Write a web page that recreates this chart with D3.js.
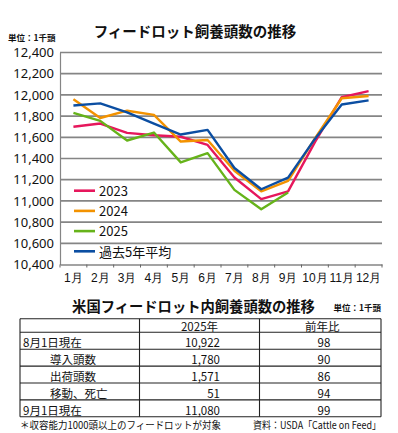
<!DOCTYPE html>
<html>
<head>
<meta charset="utf-8">
<script src="https://cdn.jsdelivr.net/npm/d3@7"></script>
<style>
  body { margin: 0; background: #fff; }
  svg { display: block; font-family: "Noto Sans CJK JP", "Noto Sans", sans-serif; }
</style>
</head>
<body>
<svg id="chart" width="398" height="433"></svg>
<script>
// chart data (千頭)
const months = ['1月', '2月', '3月', '4月', '5月', '6月', '7月', '8月', '9月', '10月', '11月', '12月'];
const y2023 = [11700, 11730, 11642, 11620, 11605, 11528, 11221, 11017, 11090, 11555, 11978, 12035];
const y2024 = [11958, 11782, 11851, 11811, 11560, 11575, 11285, 11090, 11188, 11590, 11968, 11990];
const y2025 = [11830, 11755, 11570, 11645, 11363, 11451, 11104, 10922, 11080, null, null, null];
const avg5 = [11900, 11920, 11836, 11730, 11626, 11670, 11310, 11110, 11220, 11585, 11910, 11948];
const yTicks = [10400, 10600, 10800, 11000, 11200, 11400, 11600, 11800, 12000, 12200, 12400];

const seriesNames = ['2023', '2024', '2025', '過去5年平均'];
const seriesColors = ['#e6175c', '#f39200', '#66b31a', '#0b4ea2'];
const seriesValues = [y2023, y2024, y2025, avg5];

// table data
const tableHeader = ['', '2025年', '前年比'];
const rowLabels = ['8月1日現在', '導入頭数', '出荷頭数', '移動、死亡', '9月1日現在'];
const rowIndent = [false, true, true, true, false];
const rowValues = ['10,922', '1,780', '1,571', '51', '11,080'];
const rowRatio = ['98', '90', '86', '94', '99'];

const svg = d3.select('#chart');
const fmt = d3.format(',');

const x = d3.scaleBand().domain(months).range([60, 382]);
const y = d3.scaleLinear().domain([10400, 12400]).range([264.5, 52.5]);

// titles
svg.append('text').attr('x', 195).attr('y', 37).attr('text-anchor', 'middle')
  .attr('font-size', 14.5).attr('font-weight', 'bold').attr('fill', '#111')
  .text('フィードロット飼養頭数の推移');
svg.append('text').attr('x', 8).attr('y', 41)
  .attr('font-size', 8.5).attr('font-weight', 'bold').attr('fill', '#111')
  .text('単位：1千頭');

// gridlines
svg.append('g').selectAll('line').data(yTicks.slice(1)).join('line')
  .attr('x1', 60).attr('x2', 382)
  .attr('y1', d => y(d)).attr('y2', d => y(d))
  .attr('stroke', '#858585').attr('stroke-width', 1.7);

// y axis
const yAxis = svg.append('g').attr('transform', 'translate(60,0)')
  .call(d3.axisLeft(y).tickValues(yTicks).tickFormat(fmt).tickSize(0).tickPadding(6));
yAxis.select('.domain').attr('stroke', '#858585').attr('stroke-width', 1.2);
yAxis.selectAll('text').attr('font-size', 13).attr('fill', '#111')
  .attr('font-family', '"Noto Sans", "Open Sans", sans-serif');

// x axis
const xAxis = svg.append('g').attr('transform', `translate(0,${y(10400)})`)
  .call(d3.axisBottom(x).tickSize(0).tickPadding(9));
xAxis.select('.domain').attr('stroke', '#858585').attr('stroke-width', 1.7);
xAxis.selectAll('text').attr('font-size', 12).attr('fill', '#111');
svg.append('g').selectAll('line').data(months.concat(['end'])).join('line')
  .attr('x1', (d, i) => 60 + i * x.step()).attr('x2', (d, i) => 60 + i * x.step())
  .attr('y1', y(10400)).attr('y2', y(10400) + 3)
  .attr('stroke', '#666').attr('stroke-width', 1);

// lines
const line = d3.line()
  .defined(d => d != null)
  .x((d, i) => x(months[i]) + x.bandwidth() / 2)
  .y(d => y(d));

seriesValues.forEach((vals, k) => {
  svg.append('path').datum(vals)
    .attr('d', line)
    .attr('fill', 'none')
    .attr('stroke', seriesColors[k])
    .attr('stroke-width', 2.4)
    .attr('stroke-linejoin', 'round');
});

// legend
const legend = svg.append('g');
seriesNames.forEach((name, k) => {
  const ly = 190.7 + k * 20.2;
  legend.append('line').attr('x1', 74).attr('x2', 95).attr('y1', ly).attr('y2', ly)
    .attr('stroke', seriesColors[k]).attr('stroke-width', 2.6);
  legend.append('text').attr('x', 99).attr('y', ly + 5.2)
    .attr('font-size', 13).attr('fill', '#111').text(name);
});

// table
svg.append('text').attr('x', 193.5).attr('y', 311.5).attr('text-anchor', 'middle')
  .attr('font-size', 14.3).attr('font-weight', 'bold').attr('fill', '#111')
  .text('米国フィードロット内飼養頭数の推移');
svg.append('text').attr('x', 381).attr('y', 311).attr('text-anchor', 'end')
  .attr('font-size', 8.5).attr('font-weight', 'bold').attr('fill', '#111')
  .text('単位：1千頭');

const tLeft = 20, tRight = 381, tTop = 318.8, headH = 13.5, rowH = 16.9;
const colX = [tLeft, 139.5, 259.5, tRight];
const tBottom = tTop + headH + rowH * rowLabels.length;
const tbl = svg.append('g');

const hLines = [tTop, tTop + headH].concat(rowLabels.map((d, i) => tTop + headH + rowH * (i + 1)));
tbl.selectAll('.h').data(hLines).join('line')
  .attr('x1', tLeft).attr('x2', tRight).attr('y1', d => d).attr('y2', d => d)
  .attr('stroke', '#222').attr('stroke-width', 1.1);
tbl.selectAll('.v').data(colX).join('line')
  .attr('x1', d => d).attr('x2', d => d).attr('y1', tTop).attr('y2', tBottom)
  .attr('stroke', '#222').attr('stroke-width', 1.1);

const tFont = 11.5;
tbl.append('text').attr('x', (colX[1] + colX[2]) / 2).attr('y', tTop + headH - 1.8)
  .attr('text-anchor', 'middle').attr('font-size', tFont).attr('fill', '#111').text(tableHeader[1]);
tbl.append('text').attr('x', (colX[2] + colX[3]) / 2 + 2).attr('y', tTop + headH - 1.8)
  .attr('text-anchor', 'middle').attr('font-size', tFont).attr('fill', '#111').text(tableHeader[2]);

rowLabels.forEach((lab, i) => {
  const by = tTop + headH + rowH * (i + 1) - 1.8;
  tbl.append('text').attr('x', rowIndent[i] ? 50 : 23).attr('y', by)
    .attr('font-size', tFont).attr('fill', '#111').text(lab);
  tbl.append('text').attr('x', 220).attr('y', by).attr('text-anchor', 'end')
    .attr('font-size', tFont).attr('fill', '#111').text(rowValues[i]);
  tbl.append('text').attr('x', 324).attr('y', by).attr('text-anchor', 'middle')
    .attr('font-size', tFont).attr('fill', '#111').text(rowRatio[i]);
});

svg.append('text').attr('x', 20).attr('y', 429.3)
  .attr('font-size', 10).attr('fill', '#111')
  .attr('textLength', 201).attr('lengthAdjust', 'spacingAndGlyphs')
  .text('＊収容能力1000頭以上のフィードロットが対象');
svg.append('text').attr('x', 381).attr('y', 429.3).attr('text-anchor', 'end')
  .attr('font-size', 10).attr('fill', '#111')
  .attr('textLength', 128).attr('lengthAdjust', 'spacingAndGlyphs')
  .text('資料：USDA「Cattle on Feed」');
</script>
</body>
</html>
